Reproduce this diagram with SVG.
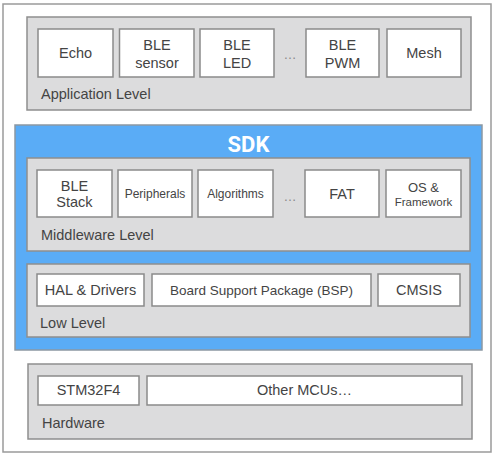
<svg xmlns="http://www.w3.org/2000/svg" width="500" height="458" viewBox="0 0 500 458">
<style>
.frame{fill:#fff;stroke:#9a9a9a;stroke-width:1.5}
.panel{fill:#dcdcdd;stroke:#8e8e8e;stroke-width:1.5}
.box{fill:#fff;stroke:#8a8a8a;stroke-width:1.5}
.sdk{fill:#5aacf6;stroke:#8c98a3;stroke-width:1.5}
text{font-family:"Liberation Sans",Arial,sans-serif;fill:#444}
.t{font-size:14.5px;text-anchor:middle}
.s{font-size:12px;text-anchor:middle}
.lbl{font-size:14.5px}
.dots{font-size:13px;fill:#888;text-anchor:middle}
</style>
<rect class="frame" x="3" y="4" width="488" height="448"/>

<g id="application">
<rect class="panel" x="27" y="17" width="444" height="93"/>
<text class="lbl" x="41" y="99">Application Level</text>
</g>
<g id="echo"><rect class="box" x="38" y="29" width="75" height="48"/><text class="t" x="75.5" y="58">Echo</text></g>
<g id="ble-sensor"><rect class="box" x="119.5" y="29" width="74.5" height="48"/><text class="t" x="157" y="50">BLE</text><text class="t" x="157" y="68">sensor</text></g>
<g id="ble-led"><rect class="box" x="200" y="29" width="74" height="48"/><text class="t" x="237" y="50">BLE</text><text class="t" x="237" y="68">LED</text></g>
<text class="dots" x="290" y="59">…</text>
<g id="ble-pwm"><rect class="box" x="306" y="29" width="73" height="48"/><text class="t" x="342.5" y="50">BLE</text><text class="t" x="342.5" y="68">PWM</text></g>
<g id="mesh"><rect class="box" x="387" y="29" width="74" height="48"/><text class="t" x="424" y="58">Mesh</text></g>

<g id="sdk">
<rect class="sdk" x="15" y="125" width="467" height="225"/>
<text x="248.5" y="152" style="font-family:Roboto,'Liberation Sans',sans-serif;font-weight:bold;font-size:22px;fill:#fff;text-anchor:middle">SDK</text>
</g>

<g id="middleware">
<rect class="panel" x="27" y="158" width="443" height="93"/>
<text class="lbl" x="41" y="240">Middleware Level</text>
</g>
<g id="ble-stack"><rect class="box" x="37" y="170" width="75" height="47"/><text class="t" x="74.5" y="191">BLE</text><text class="t" x="74.5" y="207">Stack</text></g>
<g id="peripherals"><rect class="box" x="118" y="170" width="74" height="47"/><text class="s" x="155" y="198">Peripherals</text></g>
<g id="algorithms"><rect class="box" x="198" y="170" width="75" height="47"/><text class="s" x="235.5" y="198">Algorithms</text></g>
<text class="dots" x="290" y="201">…</text>
<g id="fat"><rect class="box" x="305" y="170" width="74" height="47"/><text class="t" x="342" y="199">FAT</text></g>
<g id="os-framework"><rect class="box" x="386" y="170" width="75" height="47"/><text class="s" x="423.5" y="192" style="font-size:13px">OS &amp;</text><text class="s" x="423.5" y="206" style="font-size:11.5px">Framework</text></g>

<g id="low">
<rect class="panel" x="27" y="264" width="443" height="73"/>
<text class="lbl" x="40" y="328">Low Level</text>
</g>
<g id="hal"><rect class="box" x="37" y="274" width="107" height="32"/><text class="t" x="90.5" y="295">HAL &amp; Drivers</text></g>
<g id="bsp"><rect class="box" x="152" y="274" width="219" height="32"/><text class="t" x="261.5" y="295" style="font-size:13.5px">Board Support Package (BSP)</text></g>
<g id="cmsis"><rect class="box" x="378" y="274" width="82" height="32"/><text class="t" x="419" y="295">CMSIS</text></g>

<g id="hardware">
<rect class="panel" x="28" y="364" width="444" height="75"/>
<text class="lbl" x="42" y="428">Hardware</text>
</g>
<g id="stm32f4"><rect class="box" x="38" y="376" width="101" height="29"/><text class="t" x="88.5" y="395">STM32F4</text></g>
<g id="other-mcus"><rect class="box" x="147" y="376" width="315" height="29"/><text class="t" x="304.5" y="395">Other MCUs…</text></g>
</svg>
